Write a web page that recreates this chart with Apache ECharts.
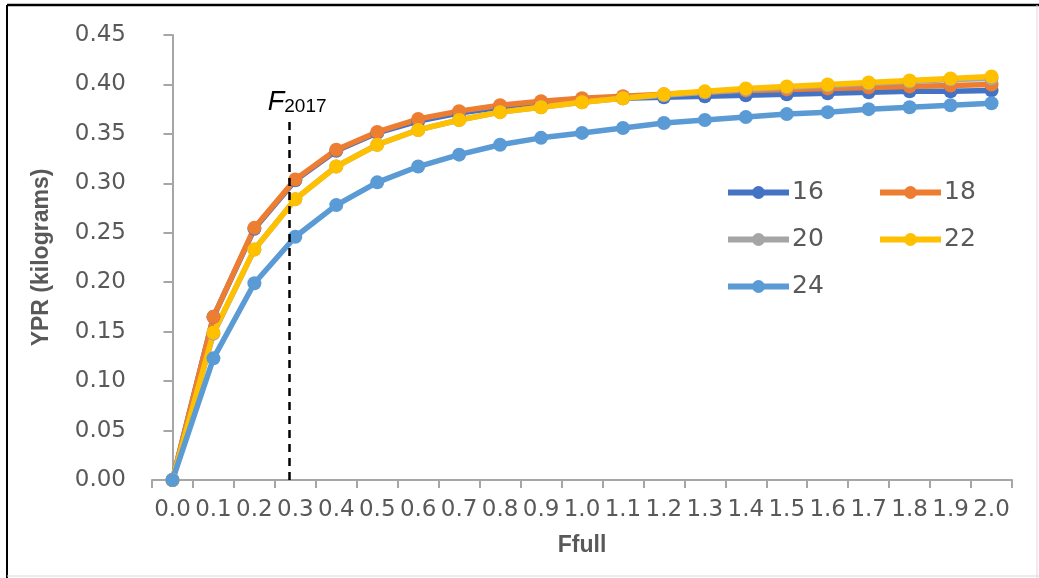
<!DOCTYPE html>
<html>
<head>
<meta charset="utf-8">
<script src="https://cdn.jsdelivr.net/npm/echarts@6/dist/echarts.min.js"></script>
<style>
html,body{margin:0;padding:0;background:#fff;}
#chart{width:1039px;height:578px;}
</style>
</head>
<body>
<div id="chart"></div>
<script>
var categories = ['0.0','0.1','0.2','0.3','0.4','0.5','0.6','0.7','0.8','0.9','1.0','1.1','1.2','1.3','1.4','1.5','1.6','1.7','1.8','1.9','2.0'];
var s16 = [0, 0.165, 0.254, 0.303, 0.333, 0.351, 0.363, 0.371, 0.377, 0.381, 0.384, 0.386, 0.387, 0.388, 0.389, 0.390, 0.391, 0.392, 0.393, 0.393, 0.394];
var s18 = [0, 0.165, 0.255, 0.304, 0.334, 0.352, 0.365, 0.373, 0.379, 0.383, 0.386, 0.388, 0.390, 0.392, 0.394, 0.395, 0.396, 0.397, 0.398, 0.399, 0.400];
var s20 = [0, 0.148, 0.233, 0.284, 0.317, 0.339, 0.354, 0.364, 0.372, 0.377, 0.382, 0.386, 0.389, 0.392, 0.395, 0.397, 0.399, 0.401, 0.403, 0.405, 0.406];
var s22 = [0, 0.149, 0.233, 0.284, 0.317, 0.339, 0.354, 0.364, 0.372, 0.377, 0.382, 0.386, 0.390, 0.393, 0.396, 0.398, 0.400, 0.402, 0.404, 0.406, 0.408];
var s24 = [0, 0.123, 0.199, 0.246, 0.278, 0.301, 0.317, 0.329, 0.339, 0.346, 0.351, 0.356, 0.361, 0.364, 0.367, 0.370, 0.372, 0.375, 0.377, 0.379, 0.381];
var seriesNames = ['16','18','20','22','24'];
var seriesColors = ['#4472C4','#ED7D31','#A5A5A5','#FFC000','#5B9BD5'];
var fLine = [0.285, 0.362];   // F2017 position and line top
var yTicks = [0, 0.45, 0.05];

var allData = [s16, s18, s20, s22, s24];
var chart = echarts.init(document.getElementById('chart'));
var FONT = 'DejaVu Sans';
var series = seriesNames.map(function(n, i){
  return {
    name: n, type: 'line', data: allData[i],
    xAxisIndex: 0, yAxisIndex: 0,
    symbol: 'circle', symbolSize: 14, showSymbol: true,
    lineStyle: {width: 5.5, color: seriesColors[i]},
    itemStyle: {color: seriesColors[i]},
    emphasis: {disabled: true},
    animation: false
  };
});
series.push({
  type: 'line', xAxisIndex: 1, yAxisIndex: 0,
  data: [[fLine[0], 0]], showSymbol: false, symbol: 'none',
  lineStyle: {width: 0}, silent: true, animation: false,
  markLine: {
    silent: true, symbol: ['none','none'], animation: false,
    lineStyle: {color: '#000', type: [8, 6], width: 2.5},
    label: {
      show: true, position: 'end', distance: 6, offset: [8, 0],
      formatter: '{f|F}{s|2017}',
      rich: {
        f: {fontFamily: 'Liberation Sans', fontStyle: 'italic', fontSize: 27, color: '#000', verticalAlign: 'bottom', lineHeight: 28},
        s: {fontFamily: 'Liberation Sans', fontSize: 19, color: '#000', verticalAlign: 'bottom', lineHeight: 24}
      }
    },
    data: [[{coord: [fLine[0], 0]}, {coord: [fLine[0], fLine[1]]}]]
  }
});

var legendCommon = {
  orient: 'vertical', itemWidth: 61, itemHeight: 16, itemGap: 22, top: 175,
  lineStyle: {width: 6}, symbolKeepAspect: true,
  textStyle: {fontFamily: FONT, fontSize: 25, color: '#595959', lineHeight: 25, padding: [0, 0, 0, -2]},
  selectedMode: false
};
chart.setOption({
  backgroundColor: '#fff',
  animation: false,
  grid: {left: 152, right: 27, top: 35, bottom: 98, containLabel: false},
  legend: [
    Object.assign({data: ['16','20','24'], left: 720}, legendCommon),
    Object.assign({data: ['18','22'], left: 872}, legendCommon)
  ],
  xAxis: [{
    type: 'category', data: categories, boundaryGap: true,
    name: 'Ffull', nameLocation: 'middle', nameGap: 54,
    nameTextStyle: {fontFamily: 'Liberation Sans', fontWeight: 'bold', fontSize: 23, color: '#595959'},
    axisLine: {lineStyle: {color: '#A6A6A6', width: 2}},
    axisTick: {show: true, alignWithLabel: false, length: 8, lineStyle: {color: '#A6A6A6', width: 2}},
    axisLabel: {interval: 0, fontFamily: FONT, fontSize: 23, color: '#595959', margin: 19},
    splitLine: {show: false}
  }, {
    type: 'value', min: -0.05, max: 2.05, show: false
  }],
  yAxis: {
    type: 'value', min: yTicks[0], max: yTicks[1], interval: yTicks[2],
    name: 'YPR (kilograms)', nameLocation: 'middle', nameGap: 99,
    nameTextStyle: {fontFamily: 'Liberation Sans', fontWeight: 'bold', fontSize: 23, color: '#595959'},
    axisLine: {show: true, lineStyle: {color: '#A6A6A6', width: 2}},
    axisTick: {show: true, length: 9, lineStyle: {color: '#A6A6A6', width: 2}},
    axisLabel: {fontFamily: FONT, fontSize: 23, color: '#595959', margin: 26,
      formatter: function(v){ return v.toFixed(2); }},
    splitLine: {show: false}
  },
  graphic: [
    {type: 'line', shape: {x1: 7, y1: 5, x2: 1039, y2: 5}, style: {stroke: '#000', lineWidth: 2.5}, silent: true},
    {type: 'line', shape: {x1: 7, y1: 5, x2: 7, y2: 578}, style: {stroke: '#000', lineWidth: 2}, silent: true},
    {type: 'line', shape: {x1: 1037, y1: 5, x2: 1037, y2: 578}, style: {stroke: '#d9d9d9', lineWidth: 1}, silent: true},
    {type: 'line', shape: {x1: 7, y1: 576, x2: 1039, y2: 576}, style: {stroke: '#d9d9d9', lineWidth: 1}, silent: true}
  ],
  series: series
});
</script>
</body>
</html>
